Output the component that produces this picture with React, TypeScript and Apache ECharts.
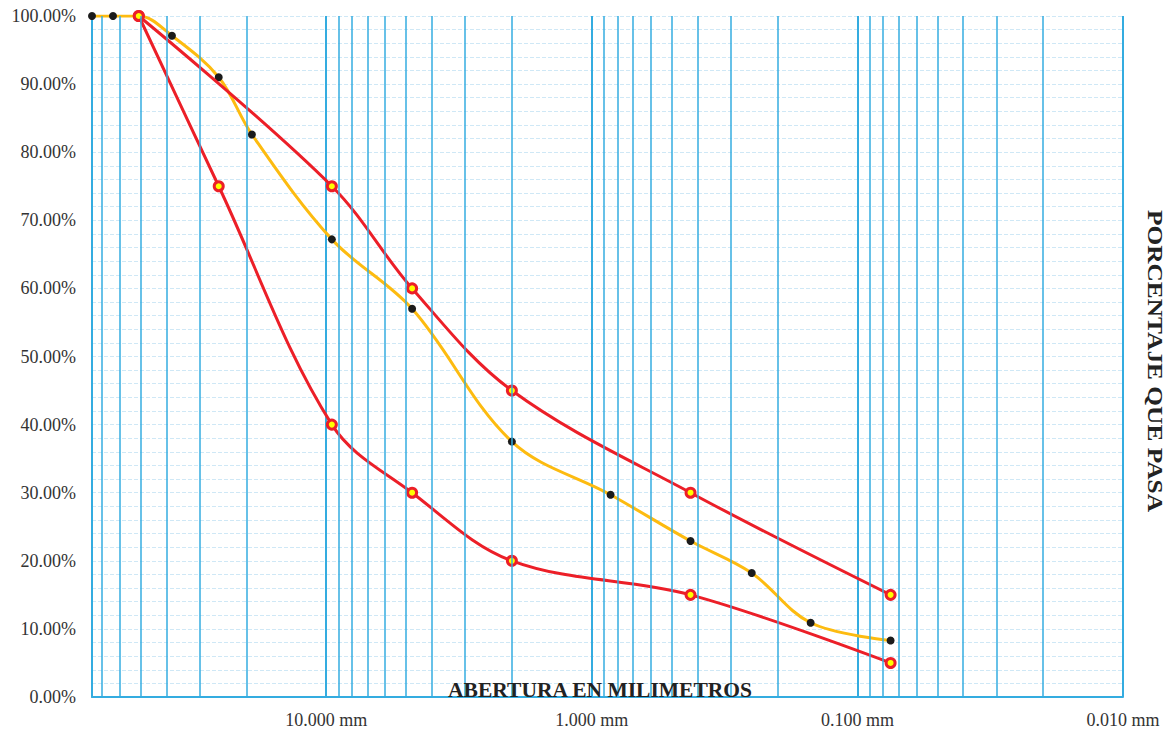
import React, { useEffect, useRef } from "react";
import * as echarts from "echarts";

// Sieve openings (mm) and % passing for the sample (yellow curve)
const sieveMm = [76.2, 63.5, 50.8, 38.1, 25.4, 19.05, 9.525, 4.75, 2.0, 0.85, 0.425, 0.25, 0.15, 0.075];
const passing = [100, 100, 100, 97.1, 91.0, 82.6, 67.2, 57.0, 37.5, 29.7, 22.9, 18.2, 10.9, 8.3];

// Specification limits (red curves)
const upperMm = [50.8, 9.525, 4.75, 2.0, 0.425, 0.075];
const upperLimit = [100, 75, 60, 45, 30, 15];
const lowerMm = [50.8, 25.4, 9.525, 4.75, 2.0, 0.425, 0.075];
const lowerLimit = [100, 75, 40, 30, 20, 15, 5];

// Log-grid minor lines (mm)
const minorGridMm = [
  70, 60, 50, 40, 30, 20,
  9, 8, 7, 6, 5, 4, 3, 2,
  0.9, 0.8, 0.7, 0.6, 0.5, 0.4, 0.3, 0.2,
  0.09, 0.08, 0.07, 0.06, 0.05, 0.04, 0.03, 0.02,
];

const xMin = 0.01;
const xMax = 76.2;
const yTicks = { min: 0, max: 100, interval: 10 };

const xTitle = "ABERTURA EN MILIMETROS";
const yTitle = "PORCENTAJE QUE PASA";

const FONT = "'Liberation Serif', 'Times New Roman', serif";
const BLUE = "#34ace0";
const RED = "#ec1f28";
const GOLD = "#fdbb10";

export default function App() {
  const ref = useRef<HTMLDivElement>(null);

  useEffect(() => {
    if (!ref.current) return;
    const chart = echarts.init(ref.current, undefined, { renderer: "svg" });
    const zip = (xs: number[], ys: number[]) => xs.map((x, i) => [x, ys[i]]);
    const isPow10 = (v: number) => {
      const l = Math.log10(v);
      return Math.abs(l - Math.round(l)) < 1e-6;
    };

    chart.setOption({
      animation: false,
      grid: { left: 92, right: 44, top: 16, bottom: 31.5, containLabel: false },
      xAxis: {
        type: "log",
        logBase: 10,
        min: xMin,
        max: xMax,
        inverse: true,
        axisLine: { show: true, onZero: false, lineStyle: { color: BLUE, width: 2 } },
        axisTick: { show: false },
        axisLabel: {
          show: true,
          margin: 14,
          fontFamily: FONT,
          fontSize: 18,
          color: "#333",
          showMinLabel: true,
          showMaxLabel: true,
          formatter: (v: number) => (isPow10(v) ? `${v.toFixed(3)} mm` : ""),
        },
        splitLine: { show: true, lineStyle: { color: BLUE, width: 2 } },
      },
      yAxis: {
        type: "value",
        min: yTicks.min,
        max: yTicks.max,
        interval: yTicks.interval,
        axisLine: { show: true, lineStyle: { color: BLUE, width: 2 } },
        axisTick: { show: false },
        axisLabel: {
          margin: 16,
          fontFamily: FONT,
          fontSize: 18,
          color: "#333",
          formatter: (v: number) => `${v.toFixed(2)}%`,
        },
        splitLine: { show: true, lineStyle: { color: "#cfe8f6", width: 1, type: [4, 2] } },
        minorTick: { show: false, splitNumber: 5 },
        minorSplitLine: { show: true, lineStyle: { color: "#cfe8f6", width: 1, type: [4, 2] } },
      },
      graphic: [
        {
          type: "text",
          x: 600,
          y: 690,
          style: {
            text: xTitle,
            fontFamily: FONT,
            fontWeight: "bold",
            fontSize: 21.5,
            fill: "#222",
            textAlign: "center",
            textVerticalAlign: "middle",
          },
          z: 100,
        },
        {
          type: "text",
          x: 1155,
          y: 361,
          rotation: -Math.PI / 2,
          scaleX: 1.18,
          style: {
            text: yTitle,
            fontFamily: FONT,
            fontWeight: "bold",
            fontSize: 21.5,
            fill: "#222",
            textAlign: "center",
            textVerticalAlign: "middle",
          },
        },
      ],
      series: [
        {
          name: "grid",
          type: "line",
          data: [],
          silent: true,
          markLine: {
            silent: true,
            symbol: "none",
            label: { show: false },
            lineStyle: { color: BLUE, width: 1.5, type: "solid" },
            data: minorGridMm.map((v) => ({ xAxis: v })),
          },
        },
        {
          name: "Muestra",
          type: "line",
          data: zip(sieveMm, passing),
          smooth: 0.35,
          symbol: "circle",
          symbolSize: 8,
          lineStyle: { color: GOLD, width: 3 },
          itemStyle: { color: "#1b1b1b", borderWidth: 0 },
          z: 3,
        },
        {
          name: "Límite superior",
          type: "line",
          data: zip(upperMm, upperLimit),
          smooth: 0.35,
          symbol: "circle",
          symbolSize: 9,
          lineStyle: { color: RED, width: 3 },
          itemStyle: { color: "#ffff00", borderColor: RED, borderWidth: 3 },
          z: 4,
        },
        {
          name: "Límite inferior",
          type: "line",
          data: zip(lowerMm, lowerLimit),
          smooth: 0.35,
          symbol: "circle",
          symbolSize: 9,
          lineStyle: { color: RED, width: 3 },
          itemStyle: { color: "#ffff00", borderColor: RED, borderWidth: 3 },
          z: 4,
        },
      ],
    });

    return () => chart.dispose();
  }, []);

  return (
    <div
      ref={ref}
      style={{ position: "absolute", left: 0, top: 0, width: 1167, height: 729, background: "#fff" }}
    />
  );
}
